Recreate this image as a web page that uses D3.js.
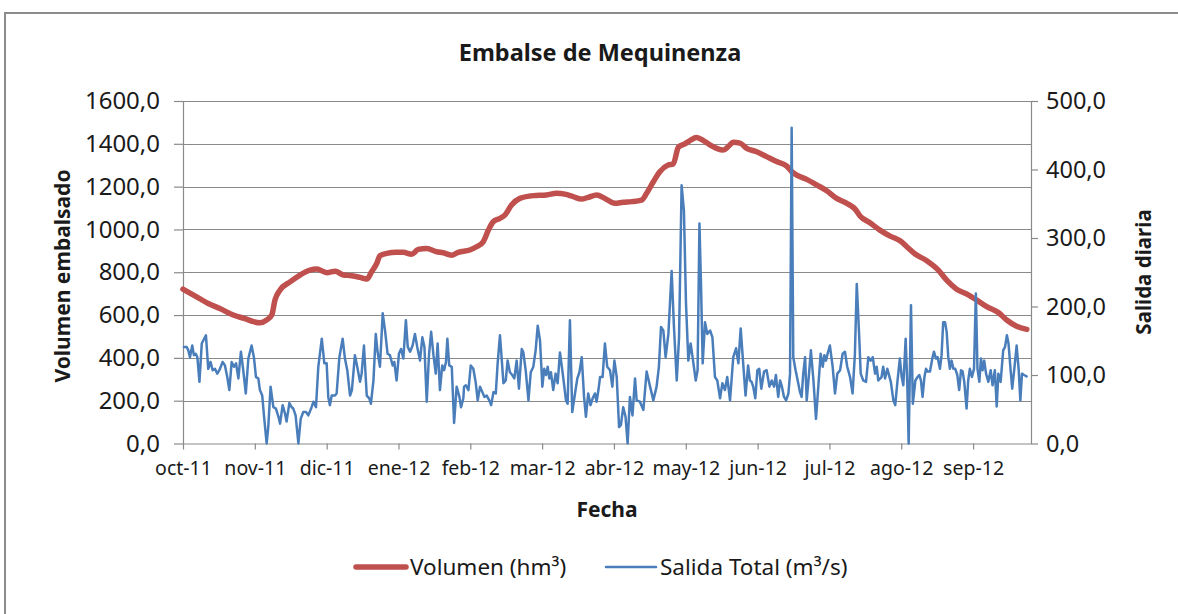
<!DOCTYPE html>
<html>
<head>
<meta charset="utf-8">
<script src="https://cdn.jsdelivr.net/npm/d3@7"></script>
<style>
  html, body { margin: 0; padding: 0; background: #fff; }
  svg { display: block; }
  text { font-family: "Noto Sans", "Open Sans", sans-serif; fill: #1a1a1a; }
</style>
</head>
<body>
<svg id="chart" width="1178" height="614"></svg>
<script>
// ---- Data (day index from 1-oct-2011) ----
const monthLabels = ["oct-11","nov-11","dic-11","ene-12","feb-12","mar-12","abr-12","may-12","jun-12","jul-12","ago-12","sep-12"];
const monthTickDays = [0,31,62,93,124,155,186,217,248,279,310,341];
const leftTicks = [0,200,400,600,800,1000,1200,1400,1600];
const rightTicks = [0,100,200,300,400,500];

// Volumen (hm3)
const volDays = [0,5.9,10.9,15.9,21.7,26.8,30.4,33.2,36.1,38.3,39.7,41.9,46.2,50.5,54.8,57.7,62.1,65.7,69.2,72.8,76.4,79.3,81.4,83.6,85,87.9,92.2,95.1,98.7,101.5,105.1,109.5,112.3,115.9,118.8,123.8,126.7,129.6,131.8,133.9,136.8,138.9,141.8,145.4,151.2,156.9,161.2,164.8,168.4,172,174.9,178.5,182.1,186.4,190,193.6,197.9,200.1,203,205.8,209.4,211.6,213.8,216.6,218.8,221.7,224.6,227.4,230.3,233.2,235.3,237.5,240.4,243.3,247.6,251.9,256.2,260.6,262.7,264.9,269.2,273.5,277.8,282.1,286.5,290.1,292.2,296.5,300.8,305.2,309.5,312.4,316,321,326,329.6,333.9,338.3,342.6,346.9,351.9,355.5,359.8,364.2];
const volValues = [721,685,654,631,600,583,569,564,577,600,670,717,755,787,810,815,798,805,787,784,776,768,802,841,877,888,893,893,884,907,911,896,891,880,893,904,919,943,997,1036,1052,1067,1114,1145,1158,1161,1169,1165,1153,1142,1150,1161,1145,1122,1127,1130,1137,1169,1223,1270,1301,1306,1384,1400,1415,1429,1415,1395,1379,1371,1387,1407,1403,1379,1363,1340,1317,1296,1270,1254,1234,1208,1181,1145,1122,1095,1063,1031,997,969,947,919,885,854,810,763,721,698,670,639,612,577,548,533];

// Salida Total (m3/s)
const salDays = [0.4,1.6,2.3,3.0,4.0,4.7,5.5,6.2,7.1,8.1,9.9,10.9,11.9,12.8,13.8,14.8,15.7,17.1,18.1,19.1,20.0,21.0,22.0,22.9,23.9,25.0,26.0,27.1,28.2,29.6,30.6,31.5,32.5,33.2,34.2,35.0,36.1,36.8,37.8,39.0,40.1,41.2,41.9,43.0,44.0,44.7,45.9,46.9,47.6,48.6,49.8,50.8,51.9,53.1,54.1,55.5,56.3,57.4,58.4,59.9,61.0,62.0,62.7,63.4,64.2,65.6,66.3,67.5,68.9,69.9,70.9,72.1,72.9,74.2,75.2,76.4,77.1,78.1,79.3,80.4,81.1,82.2,83.2,83.9,85.0,86.2,87.2,88.3,89.3,90.5,91.2,92.2,93.2,94.1,95.1,96.2,97.0,98.0,99.1,100.1,101.1,102.3,103.3,104.2,105.2,106.2,107.1,108.1,109.1,109.9,110.9,111.9,112.7,113.5,114.1,114.9,116.0,117.0,118.1,119.3,120.0,121.0,121.3,122.1,123.2,124.2,125.3,126.3,127.2,128.2,129.2,130.1,131.1,132.2,133.0,134.0,135.0,135.8,136.8,137.5,138.3,139.3,140.1,141.1,142.1,143.0,144.0,145.0,146.2,146.9,147.9,149.1,150.1,151.2,152.2,153.1,154.1,155.1,155.9,156.7,157.4,158.1,158.8,159.8,160.8,161.7,162.7,163.9,165.3,166.0,167.0,168.0,169.2,170.2,171.1,172.1,173.1,173.9,174.9,175.9,176.8,177.8,178.5,179.3,180.0,181.1,182.1,183.1,184.3,185.3,186.2,187.2,188.2,189.0,190.0,191.0,191.9,192.9,194.0,195.1,195.8,197.2,198.7,200.1,201.6,203.0,204.4,205.4,206.3,207.3,208.3,209.5,210.9,211.9,213.1,214.1,215.2,216.2,217.1,218.1,219.1,220.3,221.3,222.1,222.9,223.6,224.3,225.3,226.3,227.5,228.5,229.6,230.6,231.8,232.8,233.9,234.9,236.1,237.5,238.7,239.7,240.7,242.1,242.8,243.9,244.7,245.4,246.1,247.0,247.9,248.7,249.6,250.8,251.9,253.1,254.1,255.1,255.9,256.9,257.7,258.5,259.4,260.3,261.3,262.0,262.7,263.4,264.4,265.3,266.3,267.0,267.7,268.5,269.2,270.2,271.0,272.1,273.2,274.2,275.2,276.1,276.8,277.5,278.2,279.2,280.4,281.4,282.4,283.6,284.7,285.7,286.7,287.9,289.0,290.0,290.8,291.8,292.5,293.6,294.8,295.8,296.8,297.7,298.7,299.4,300.1,301.5,302.2,303.0,304.0,305.5,306.6,307.4,308.4,309.4,310.2,310.9,311.9,312.6,313.2,314.2,315.0,316.1,317.0,317.8,318.5,319.2,320.0,320.7,321.4,322.4,323.4,324.1,325.0,325.7,326.7,327.4,328.1,328.9,329.6,330.3,331.0,331.7,332.5,333.3,334.2,335.0,335.8,336.5,337.2,338.2,338.9,339.6,340.5,341.4,342.2,342.9,343.7,344.4,345.1,345.8,346.6,347.6,348.6,349.4,350.4,351.2,351.9,352.9,354.0,354.8,355.6,356.3,357.2,357.9,358.8,359.8,360.7,361.4,362.1,363.0,364.1];
const salValues = [141,141,136,126,143,129,131,126,90,146,158,109,119,107,109,102,107,119,114,97,78,119,112,117,95,134,107,73,124,143,126,97,95,78,70,39,0,24,83,53,51,39,29,56,44,32,59,53,51,41,0,36,46,46,41,53,61,53,112,153,117,117,68,56,70,70,73,126,153,124,107,70,78,129,112,90,102,143,70,66,58,92,160,136,112,190,165,131,129,114,119,92,131,138,124,180,141,134,143,160,141,121,155,141,61,131,163,129,102,146,78,114,107,119,153,114,112,30,83,68,53,66,83,85,78,114,109,90,63,83,75,68,70,63,56,75,73,117,158,126,88,92,121,104,100,95,121,80,138,133,107,63,104,112,136,172,150,83,109,100,112,95,104,78,102,88,133,102,63,58,180,46,73,95,104,126,68,39,73,56,66,73,61,78,97,97,146,112,107,83,121,97,24,27,53,39,0,68,41,95,63,61,49,105,83,63,83,112,170,165,126,160,252,170,92,155,377,340,204,121,146,117,92,107,321,228,117,177,160,165,155,97,92,66,88,78,97,63,126,139,117,168,102,70,114,92,90,83,66,107,109,80,105,107,83,92,83,100,68,92,83,68,63,73,102,461,126,107,92,75,68,102,126,63,102,136,92,36,83,131,112,129,121,131,143,112,73,102,107,131,134,112,97,73,131,233,160,102,92,90,126,121,126,102,112,92,97,112,95,109,90,63,56,92,124,97,85,153,88,0,202,58,92,97,100,92,68,97,109,105,105,124,134,124,126,109,129,177,177,163,126,109,121,109,109,100,78,107,105,90,51,92,109,97,109,219,109,90,124,107,121,102,90,107,85,107,54,102,90,136,141,158,146,107,80,109,143,107,63,102,100,98];

// ---- Layout ----
const svg = d3.select("#chart");
const X0 = 183, X1 = 1031, Y0 = 443.5, Y1 = 101;

const x = d3.scaleLinear().domain([0, 366]).range([X0, X1]);
const yL = d3.scaleLinear().domain([0, 1600]).range([Y0, Y1]);
const yR = d3.scaleLinear().domain([0, 500]).range([Y0, Y1]);
const fmt = d => d.toFixed(1).replace(".", ",");

// outer chart border
svg.append("rect").attr("x", 5).attr("y", 13).attr("width", 1300).attr("height", 800)
  .attr("fill", "none").attr("stroke", "#8c8c8c").attr("stroke-width", 2);

// gridlines
svg.append("g").selectAll("line").data(leftTicks.filter(d => d > 0)).join("line")
  .attr("x1", X0).attr("x2", X1)
  .attr("y1", d => Math.round(yL(d)) + 0.5).attr("y2", d => Math.round(yL(d)) + 0.5)
  .attr("stroke", "#8a8a8a").attr("stroke-width", 1);

// left axis
const gL = svg.append("g").attr("transform", `translate(${X0},0)`)
  .call(d3.axisLeft(yL).tickValues(leftTicks).tickFormat(fmt).tickSize(9).tickPadding(14).tickSizeOuter(0));
// right axis
const gR = svg.append("g").attr("transform", `translate(${X1},0)`)
  .call(d3.axisRight(yR).tickValues(rightTicks).tickFormat(fmt).tickSize(7).tickPadding(8).tickSizeOuter(0));
// bottom axis
const gB = svg.append("g").attr("transform", `translate(0,${Y0})`)
  .call(d3.axisBottom(x).tickValues(monthTickDays).tickFormat((d, i) => monthLabels[i]).tickSize(6).tickPadding(12).tickSizeOuter(0));

[gL, gR, gB].forEach(g => {
  g.selectAll(".domain").attr("stroke", "#8a8a8a").attr("stroke-width", 1.2);
  g.selectAll(".tick line").attr("stroke", "#8a8a8a").attr("stroke-width", 1.2);
  g.selectAll("text").attr("font-family", "Noto Sans").attr("fill", "#1a1a1a");
});
gL.selectAll("text").attr("font-size", 24);
gR.selectAll("text").attr("font-size", 23.5);
gB.selectAll("text").attr("font-size", 19.5);
gB.select(".domain").attr("d", `M${X0},0.5H${X1}`);

// lines
const volLine = d3.line().x((d, i) => x(volDays[i])).y(d => yL(d)).curve(d3.curveMonotoneX);
const salLine = d3.line().x((d, i) => x(salDays[i])).y(d => yR(d));

svg.append("path").datum(volValues).attr("d", volLine)
  .attr("fill", "none").attr("stroke", "#C0504D").attr("stroke-width", 5.5)
  .attr("stroke-linejoin", "round").attr("stroke-linecap", "round");
svg.append("path").datum(salValues).attr("d", salLine)
  .attr("fill", "none").attr("stroke", "#4A7EBB").attr("stroke-width", 2.5)
  .attr("stroke-linejoin", "round").attr("stroke-linecap", "round");

// titles
svg.append("text").attr("x", 600).attr("y", 61).attr("text-anchor", "middle")
  .attr("font-size", 23.5).attr("font-weight", "bold").text("Embalse de Mequinenza");
svg.append("text").attr("transform", "translate(70,276) rotate(-90)").attr("text-anchor", "middle")
  .attr("font-size", 21).attr("font-weight", "bold").text("Volumen embalsado");
svg.append("text").attr("transform", "translate(1151,272) rotate(-90)").attr("text-anchor", "middle")
  .attr("font-size", 20.5).attr("font-weight", "bold").text("Salida diaria");
svg.append("text").attr("x", 607).attr("y", 517).attr("text-anchor", "middle")
  .attr("font-size", 21).attr("font-weight", "bold").text("Fecha");

// legend
const legend = [
  {label: "Volumen (hm³)", color: "#C0504D", w: 5.5, x: 356},
  {label: "Salida Total (m³/s)", color: "#4A7EBB", w: 2.5, x: 606}
];
const lg = svg.append("g");
legend.forEach(l => {
  lg.append("line").attr("x1", l.x).attr("x2", l.x + 50).attr("y1", 567).attr("y2", 567)
    .attr("stroke", l.color).attr("stroke-width", l.w).attr("stroke-linecap", "round");
  lg.append("text").attr("x", l.x + 54).attr("y", 575).attr("font-size", 22.5).text(l.label);
});
</script>
</body>
</html>
